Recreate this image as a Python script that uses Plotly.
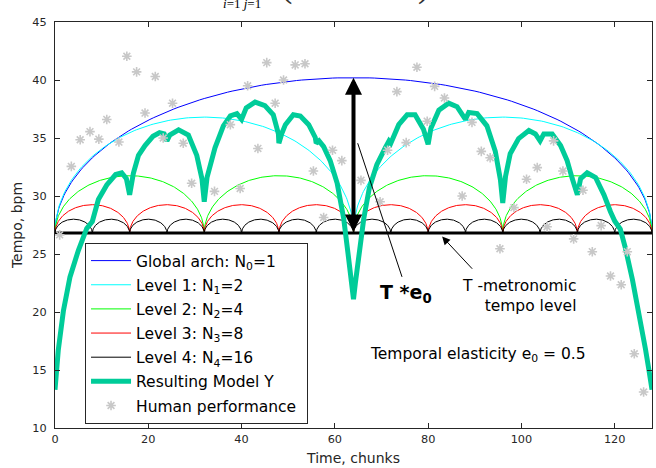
import numpy as np
import plotly.graph_objects as go

# ---------------- data ----------------
T_LEVEL = 26.8          # metronomic tempo level (bpm)
X_MAX = 128             # number of chunks
LEVEL_NAMES = ["Global arch: N<sub>0</sub>=1", "Level 1: N<sub>1</sub>=2",
               "Level 2: N<sub>2</sub>=4", "Level 3: N<sub>3</sub>=8",
               "Level 4: N<sub>4</sub>=16"]
LEVEL_COUNTS = [1, 2, 4, 8, 16]
LEVEL_PEAKS = [40.2, 36.8, 31.75, 29.25, 28.0]
LEVEL_COLORS = ["#0000ff", "#00ffff", "#00ff00", "#ff0000", "#000000"]

MODEL_X = [0, 0.7, 1.8, 3.2, 5.0, 6.8, 8.0, 9.3, 11.1, 13.0,
           14.3, 15.3, 16.0, 16.8, 17.9, 19.3, 21.0, 22.4, 23.4, 24.0,
           24.6, 26.5, 28.6, 30.4, 31.5, 32.0, 32.6, 34.3, 36.1, 37.6,
           39.0, 40.0, 41.0, 42.9, 45.0, 46.8, 47.9, 48.0, 48.6, 49.4,
           51.1, 52.6, 54.4, 55.8, 56.0, 56.6, 57.6, 59.0, 60.5, 61.9,
           62.9, 63.6, 64.0, 64.4, 65.1, 66.2, 67.4, 69.0, 70.8, 71.6,
           72.0, 72.6, 73.7, 75.5, 77.2, 79.0, 79.7, 80.0, 80.6, 82.3,
           84.4, 86.2, 87.5, 88.0, 88.7, 90.5, 92.6, 94.4, 95.5, 96.0,
           96.6, 97.6, 99.4, 101.6, 103.0, 104.0, 104.8, 106.6, 108.4, 109.8,
           110.9, 112.0, 112.7, 114.1, 115.9, 117.7, 119.1, 120.0, 121.2, 122.3,
           123.8, 125.2, 126.6, 127.3, 128.0]
MODEL_Y = [13.3, 16.7, 20.1, 23.0, 25.3, 27.2, 27.8, 29.7, 30.95, 31.85,
           32.0, 31.5, 30.1, 31.95, 33.5, 34.35, 35.15, 35.45, 35.35, 34.75,
           35.25, 35.7, 35.25, 33.5, 31.5, 29.5, 31.6, 34.15, 36.05, 36.9,
           37.1, 36.6, 37.6, 38.1, 37.8, 37.0, 35.35, 34.55, 35.35, 36.15,
           37.0, 36.9, 36.15, 35.05, 34.55, 34.75, 34.25, 33.05, 31.1, 28.05,
           24.8, 22.5, 21.1, 22.5, 25.0, 28.05, 30.7, 32.7, 34.15, 34.75,
           34.55, 35.15, 36.15, 37.0, 37.0, 35.75, 34.75, 34.45, 35.85, 37.4,
           38.0, 37.7, 36.9, 36.6, 37.2, 37.1, 36.05, 33.85, 31.4, 29.4,
           31.7, 33.65, 34.95, 35.65, 35.35, 34.75, 35.35, 35.35, 34.35, 33.05,
           31.5, 30.1, 31.5, 32.0, 31.6, 30.1, 28.65, 27.85, 27.15, 25.5,
           22.8, 19.95, 16.8, 15.1, 13.3]

HUMAN_X = [1.0, 3.5, 5.4, 7.5, 9.4, 11.1, 13.7, 15.4, 17.5, 19.3,
           21.5, 23.2, 25.2, 27.5, 29.3, 34.2, 37.6, 39.7, 41.3, 43.5,
           45.4, 47.2, 49.0, 51.5, 53.6, 55.4, 57.6, 59.5, 61.5, 65.6,
           69.7, 71.3, 73.3, 75.3, 77.6, 79.8, 81.4, 83.5, 87.3, 89.4,
           91.4, 93.3, 95.4, 98.4, 101.1, 103.4, 105.5, 106.9, 108.9, 111.2,
           113.2, 115.2, 117.1, 119.1, 121.4, 122.7, 124.2, 126.2]
HUMAN_Y = [26.65, 32.55, 34.85, 35.55, 34.9, 36.6, 34.65, 42.05, 40.7, 37.15,
           40.3, 35.0, 38.0, 34.55, 31.1, 30.4, 36.15, 30.65, 39.5, 34.1,
           41.5, 38.0, 40.0, 41.3, 41.4, 32.15, 28.15, 33.95, 33.05, 31.35,
           29.5, 33.95, 39.0, 34.6, 41.1, 36.45, 39.45, 38.45, 30.0, 36.35,
           33.85, 33.3, 25.45, 29.0, 31.45, 32.45, 27.35, 34.75, 32.15, 26.3,
           30.5, 25.2, 27.45, 23.1, 22.35, 25.2, 16.4, 13.1]

E0 = 0.5
X_TICKS = [0, 20, 40, 60, 80, 100, 120]
Y_TICKS = [10, 15, 20, 25, 30, 35, 40, 45]

# ---------------- styling ----------------
FONT = "DejaVu Sans, Arial, sans-serif"
AX_COLOR = "#262626"
MODEL_COLOR = "rgb(0,204,153)"
HUMAN_COLOR = "#c8c8c8"

fig = go.Figure()

theta = np.linspace(np.pi, 0, 181)
for name, n, peak, color in zip(LEVEL_NAMES, LEVEL_COUNTS, LEVEL_PEAKS, LEVEL_COLORS):
    w = X_MAX / n
    xs, ys = [], []
    for k in range(n):
        c = (k + 0.5) * w
        xs += list(c + (w / 2) * np.cos(theta)) + [None]
        ys += list(T_LEVEL + (peak - T_LEVEL) * np.sin(theta)) + [None]
    fig.add_trace(go.Scatter(x=xs, y=ys, mode="lines", name=name, legendgroup=name,
                             line=dict(color=color, width=1)))

# metronomic tempo baseline
fig.add_trace(go.Scatter(x=[0, X_MAX], y=[T_LEVEL, T_LEVEL], mode="lines",
                         showlegend=False, line=dict(color="black", width=3)))

fig.add_trace(go.Scatter(x=MODEL_X, y=MODEL_Y, mode="lines", name="Resulting Model Y",
                         legendgroup="model", line=dict(color=MODEL_COLOR, width=5)))

fig.add_trace(go.Scatter(x=HUMAN_X, y=HUMAN_Y, mode="markers",
                         name="Human performance&nbsp;",
                         legendgroup="human",
                         marker=dict(symbol="asterisk-open", size=8, color=HUMAN_COLOR,
                                     line=dict(color=HUMAN_COLOR, width=1.6))))

SERIF = "Liberation Serif, serif"
annotations = [
    # double arrow T*e0
    dict(x=64, y=LEVEL_PEAKS[0], ax=64, ay=T_LEVEL, xref="x", yref="y", axref="x", ayref="y",
         text="", showarrow=True, arrowhead=2, startarrowhead=2, arrowside="end+start",
         arrowwidth=4, arrowsize=0.85, startarrowsize=0.85, arrowcolor="black"),
    # T-metronomic arrow
    dict(x=83.0, y=26.5, ax=89.75, ay=23.6, xref="x", yref="y", axref="x", ayref="y",
         text="", showarrow=True, arrowhead=2, arrowwidth=1, arrowsize=1.6, arrowcolor="black"),
    dict(x=112.2, y=21.4, xref="x", yref="y", xanchor="right", yanchor="middle", align="right",
         text="T -metronomic<br>tempo level", showarrow=False,
         font=dict(family=FONT, size=15.5, color="black")),
    dict(x=69.3, y=21.6, xref="x", yref="y", xanchor="left", yanchor="middle",
         text="<b>T *e<sub>0</sub></b>", showarrow=False,
         font=dict(family=FONT, size=19, color="black")),
    dict(x=67.15, y=16.27, xref="x", yref="y", xanchor="left", yanchor="middle",
         text="Temporal elasticity e<sub>0</sub> = %s" % E0, showarrow=False,
         font=dict(family=FONT, size=15.5, color="black")),
    # fragment of the formula above the figure (clipped by page top)
    dict(x=0.313, y=1.0229, xref="paper", yref="paper", xanchor="center", yanchor="bottom",
         text="<i>i</i>=1 <i>j</i>=1", showarrow=False,
         font=dict(family=SERIF, size=13, color="black")),
    dict(x=0.388, y=1.036, xref="paper", yref="paper", xanchor="center", yanchor="bottom",
         text="(", showarrow=False, font=dict(family=SERIF, size=34, color="#333333")),
    dict(x=0.403, y=1.036, xref="paper", yref="paper", xanchor="center", yanchor="bottom",
         text="√", showarrow=False, font=dict(family=SERIF, size=34, color="#333333")),
    dict(x=0.617, y=1.036, xref="paper", yref="paper", xanchor="center", yanchor="bottom",
         text=")", showarrow=False, font=dict(family=SERIF, size=34, color="#333333")),
]

fig.update_layout(
    width=656, height=468,
    margin=dict(l=55, r=4.4, t=22.3, b=40.3, autoexpand=False),
    paper_bgcolor="white", plot_bgcolor="white",
    font=dict(family=FONT, color=AX_COLOR),
    showlegend=True,
    legend=dict(x=0.0503, y=0.4556, xanchor="left", yanchor="top",
                bgcolor="white", bordercolor=AX_COLOR, borderwidth=1,
                font=dict(family=FONT, size=15.5, color="black"),
                tracegroupgap=1, itemwidth=40),
    annotations=annotations,
    shapes=[dict(type="line", xref="x", yref="y", x0=64.9, y0=34.55, x1=74.4, y1=23.03,
                 line=dict(color="black", width=1))],
    xaxis=dict(range=[0, X_MAX], tickvals=X_TICKS, ticks="inside", ticklen=5,
               showline=True, mirror="ticks", linecolor=AX_COLOR, linewidth=1,
               tickcolor=AX_COLOR, showgrid=False, zeroline=False, automargin=False,
               tickfont=dict(family=FONT, size=11.3, color=AX_COLOR),
               title=dict(text="Time, chunks", font=dict(family=FONT, size=14, color=AX_COLOR),
                          standoff=8)),
    yaxis=dict(range=[10, 45], tickvals=Y_TICKS, ticks="inside", ticklen=5,
               showline=True, mirror="ticks", linecolor=AX_COLOR, linewidth=1,
               tickcolor=AX_COLOR, showgrid=False, zeroline=False, automargin=False,
               ticklabelstandoff=5,
               tickfont=dict(family=FONT, size=11.3, color=AX_COLOR),
               title=dict(text="Tempo, bpm", font=dict(family=FONT, size=14, color=AX_COLOR),
                          standoff=6)),
)

fig.write_html("out.html", config={"displayModeBar": False},
               post_script="document.body.style.margin='0';")
